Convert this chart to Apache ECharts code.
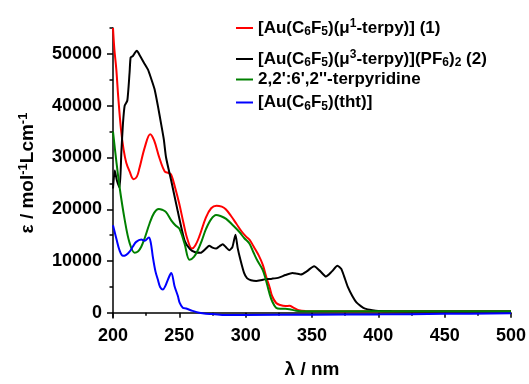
<!DOCTYPE html>
<html><head><meta charset="utf-8">
<script src="https://cdn.jsdelivr.net/npm/echarts@6/dist/echarts.min.js"></script>
<style>html,body{margin:0;padding:0;background:#fff}#c{width:529px;height:384px}</style>
</head><body><div id="c"></div>
<script>
const seriesNames = ['[Au(C6F5)(μ1-terpy)] (1)', '[Au(C6F5)(μ3-terpy)](PF6)2 (2)', "2,2':6',2''-terpyridine", '[Au(C6F5)(tht)]'];
const seriesColors = ['#ff0000', '#000000', '#008000', '#0000ff'];
const xTicks = [200, 250, 300, 350, 400, 450, 500];
const yTicks = [0, 10000, 20000, 30000, 40000, 50000];
const yMinorTicks = [5000, 15000, 25000, 35000, 45000, 55000];

const redX = [200,201,202.5,204,206,208,210,212.5,215.5,218,220,224,228,231,235,239,242,244,247,250,253,256,259.5,262,265,270,274,278,282,285,289,293,297,300,303,306,310,313,316,318,320,323,326,330,333,336,340,345,400,500];
const redY = [55000,51000,47000,41500,35500,31500,29000,27300,25800,26300,28000,32000,34500,33300,29900,27300,27000,26600,24000,21000,17500,14300,12400,13000,14700,18400,20200,20700,20500,20000,18700,17200,15700,14800,14100,12800,11000,9200,6500,5000,3200,1900,1500,1300,1350,1000,500,350,300,300];

const blackX = [200,201.3,203,205,206.3,207.5,208.8,210.8,212.5,213.3,215,216.5,218,220,223.3,226.3,228.8,231.3,233.8,236.4,238.3,240,243.9,248.9,253.9,258,262,266,270,272.5,275,277.7,280,282.7,285,287.7,290,292.3,294,296,298.8,301,304,308,313,320,325,330,335.3,338,341.6,346,351.6,356,360.5,365,369.2,372,374.2,377,380.5,383.5,386.8,390,395.5,400,410,450,500];
const blackY = [24000,27500,25500,24200,31000,36500,40000,41000,46400,49300,49600,50200,50600,49800,48300,47000,45200,43200,40000,36300,33500,30000,25500,19500,14000,12300,11700,11600,12400,12950,12600,12400,12800,13250,12700,12100,12700,15100,12500,10300,7700,6700,6300,6150,6400,6600,6800,7300,7700,7600,7400,8000,9000,8100,7000,8000,9100,8500,7050,5000,3200,2000,1300,800,500,350,280,250,250];

const greenX = [200,202.5,205,208.8,212.5,216.3,219,221.3,224,227.5,231,234.5,237,240,243.9,247,250,253.9,257.7,261,264,267,270.2,274,277.7,281,285.3,290,295.3,299,302.8,306,309,312.8,315,317.8,320,322.9,326,330,333,338,345,400,500];
const greenY = [35000,29300,24200,18000,13500,11600,11900,12760,14500,17200,19300,20060,19900,19430,17850,16900,16250,13390,10230,10800,12130,14000,16250,18100,18900,18700,18150,17000,15600,14400,13390,11600,10000,8320,6600,3870,2200,1000,800,800,700,400,300,300,300];

const blueX = [200,202.5,205,207.5,210,212.5,215,217.5,221.3,223.8,227,228.5,230,232,233.8,235.5,237.6,239.5,241.4,243.9,246.4,248.9,250.2,252.6,255.2,260,265,270,275,285,300,350,400,450,500];
const blueY = [16900,14350,12000,11000,11200,11800,12800,13700,14150,13900,14540,13500,10860,8000,6420,5000,4510,5200,6420,7680,5140,3240,1960,1000,820,380,0,-200,-250,-440,-400,-350,-300,-200,-100];

const allX = [redX, blackX, greenX, blueX];
const allY = [redY, blackY, greenY, blueY];

const FONT = '"Liberation Sans", Arial, sans-serif';
const n = {fontFamily: FONT, fontWeight: 'bold', fontSize: 17, lineHeight: 20, color: '#000'};
const sb = {fontFamily: FONT, fontWeight: 'bold', fontSize: 12, lineHeight: 12, verticalAlign: 'bottom', color: '#000'};
const sp = {fontFamily: FONT, fontWeight: 'bold', fontSize: 12, lineHeight: 12, verticalAlign: 'top', color: '#000'};
const legendRich = [
  '{n|[Au(C}{sb|6}{n|F}{sb|5}{n|)(μ}{sp|1}{n|-terpy)] (1)}',
  '{n|[Au(C}{sb|6}{n|F}{sb|5}{n|)(μ}{sp|3}{n|-terpy)](PF}{sb|6}{n|)}{sb|2}{n| (2)}',
  "{n|2,2':6',2''-terpyridine}",
  '{n|[Au(C}{sb|6}{n|F}{sb|5}{n|)(tht)]}'
];
const legendTops = [18, 49, 71, 94];

const chart = echarts.init(document.getElementById('c'), null, {renderer: 'canvas'});
const axisLine = {show: true, lineStyle: {color: '#000', width: 1.5}};
const labelStyle = {fontFamily: FONT, fontWeight: 'bold', fontSize: 18, color: '#000', formatter: v => String(v)};
chart.setOption({
  animation: false,
  backgroundColor: '#fff',
  grid: {left: 113, right: 17, top: 28, bottom: 62, containLabel: false},
  legend: seriesNames.map((nm, i) => ({
    data: [nm], left: 236, top: legendTops[i], padding: 0, icon: 'rect',
    itemWidth: 17, itemHeight: 2, selectedMode: false,
    formatter: () => legendRich[i],
    textStyle: {rich: {n: n, sb: sb, sp: sp}}
  })),
  xAxis: {
    type: 'value', min: 200, max: 500, interval: 50,
    axisLine: axisLine,
    axisTick: {show: true, inside: false, length: 5, lineStyle: {color: '#000', width: 1.5}},
    minorTick: {show: true, splitNumber: 2, length: 3, lineStyle: {color: '#000', width: 1.5}},
    splitLine: {show: false}, minorSplitLine: {show: false},
    axisLabel: Object.assign({margin: 9, customValues: xTicks}, labelStyle),
    name: 'λ / nm', nameLocation: 'middle', nameGap: 42,
    nameTextStyle: {fontFamily: FONT, fontWeight: 'bold', fontSize: 19, color: '#000'}
  },
  yAxis: [{
    type: 'value', min: -1000, max: 55000,
    axisLine: axisLine,
    axisTick: {show: true, inside: false, length: 6, customValues: yTicks, lineStyle: {color: '#000', width: 1.5}},
    splitLine: {show: false},
    axisLabel: Object.assign({margin: 11, customValues: yTicks}, labelStyle),
    name: '{n|ε / mol}{s|-1}{n|Lcm}{s|-1}', nameLocation: 'middle', nameGap: 74, nameRotate: 90,
    nameTextStyle: {rich: {
      n: {fontFamily: FONT, fontWeight: 'bold', fontSize: 19, lineHeight: 22, color: '#000'},
      s: {fontFamily: FONT, fontWeight: 'bold', fontSize: 13, lineHeight: 13, verticalAlign: 'top', color: '#000'}
    }}
  }, {
    type: 'value', min: -1000, max: 55000, position: 'left', offset: 0,
    axisLine: {show: false},
    axisTick: {show: true, inside: false, length: 3.5, customValues: yMinorTicks, lineStyle: {color: '#000', width: 1.5}},
    axisLabel: {show: false}, splitLine: {show: false}
  }],
  series: seriesNames.map((nm, i) => ({
    name: nm, type: 'line', symbol: 'none', clip: false,
    smooth: i === 1 ? 0.2 : 0.35,
    color: seriesColors[i],
    lineStyle: {color: seriesColors[i], width: 2},
    data: allX[i].map((x, j) => [x, allY[i][j]])
  }))
});
</script></body></html>
